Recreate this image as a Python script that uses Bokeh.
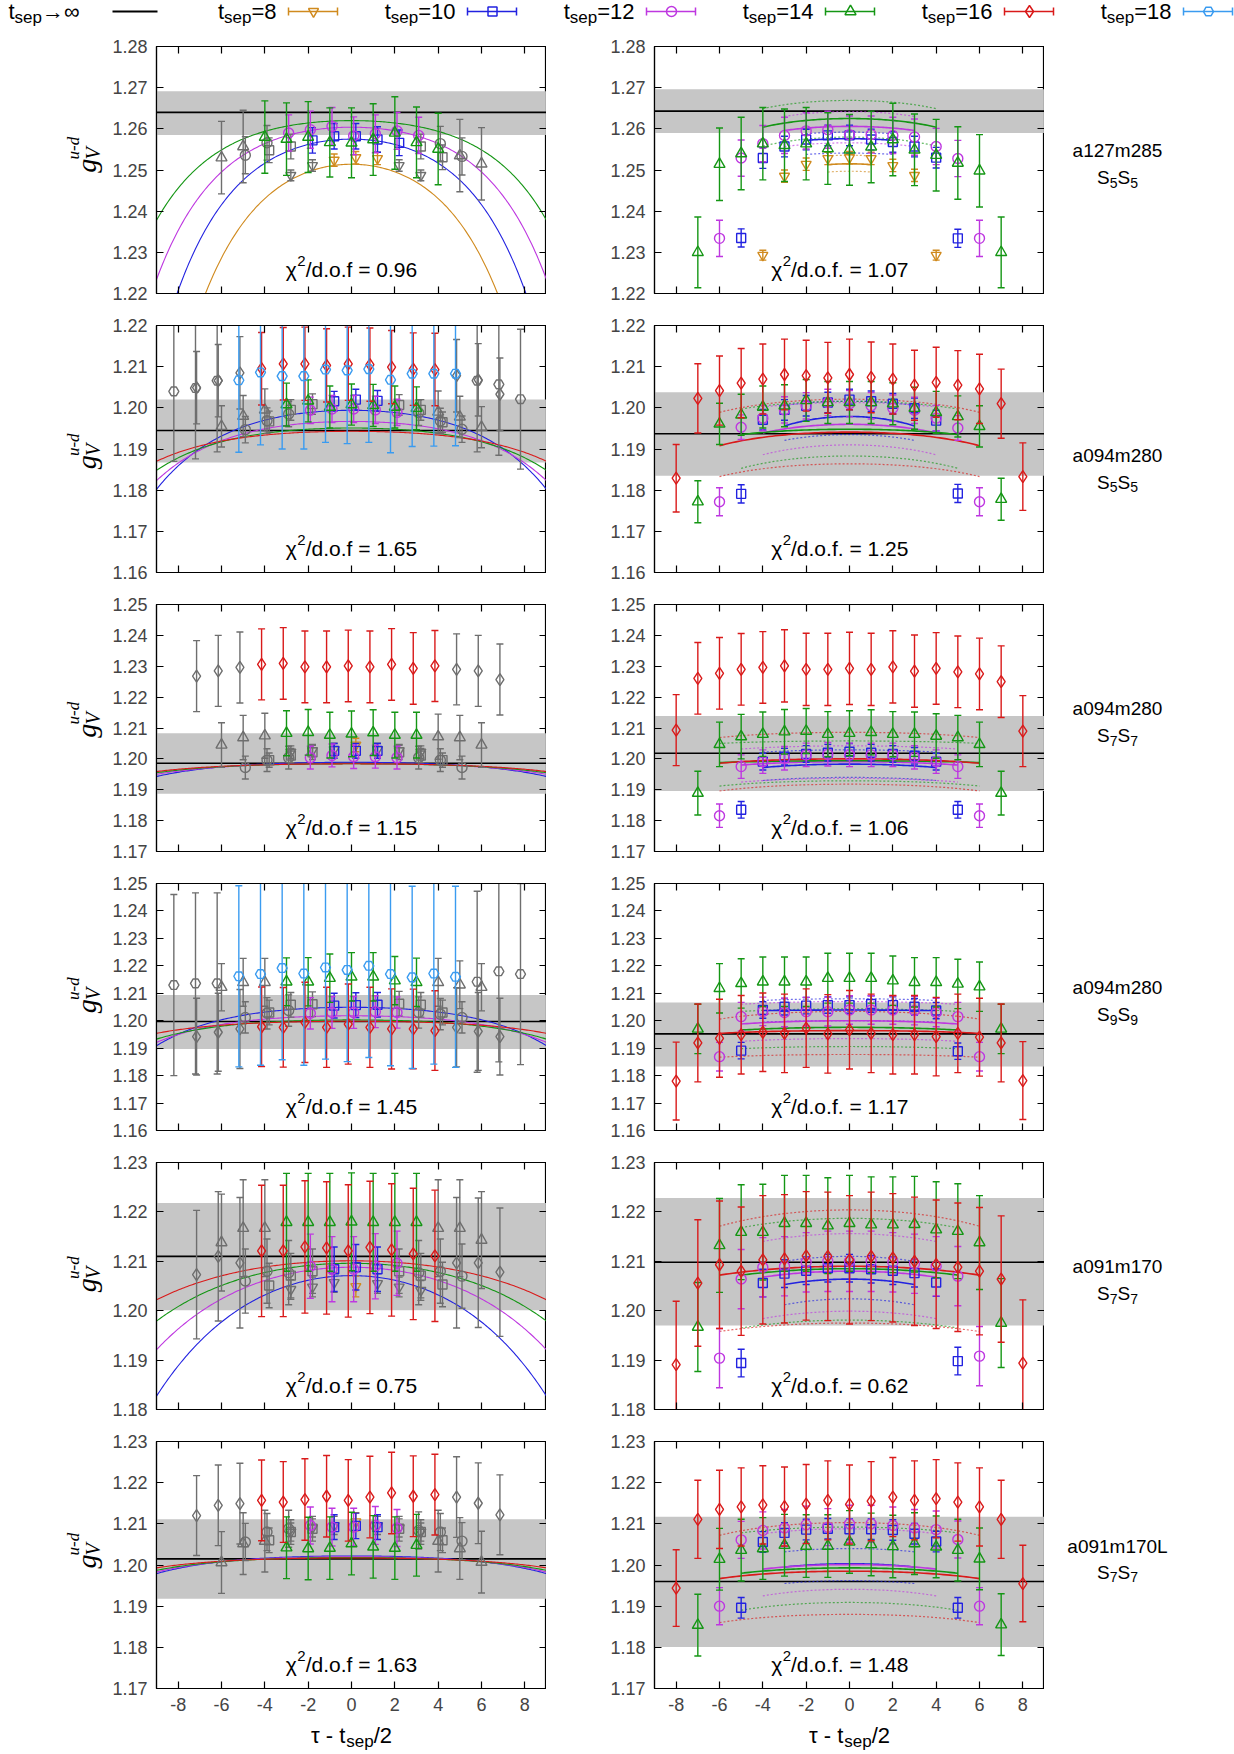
import numpy as np
from bokeh.plotting import figure
from bokeh.models import (ColumnDataSource, Range1d, FixedTicker, LinearAxis, BoxAnnotation,
                          Span, Label, PrintfTickFormatter, CustomJSTickFormatter)
from bokeh.layouts import column, row
from bokeh.embed import file_html
from bokeh.resources import INLINE

# ---------------------------------------------------------------- data
TSEPS = [8, 10, 12, 14, 16, 18]
ENSEMBLES = ["a127m285", "a094m280", "a094m280", "a094m280", "a091m170", "a091m170L"]
SMEAR = ["5", "5", "7", "9", "7", "7"]
YLIM = [(1.22, 1.28), (1.16, 1.22), (1.17, 1.25), (1.16, 1.25), (1.18, 1.23), (1.17, 1.23)]
CHI_LEFT = ["0.96", "1.65", "1.15", "1.45", "0.75", "1.63"]
CHI_RIGHT = ["1.07", "1.25", "1.06", "1.17", "0.62", "1.48"]
CUT_LEFT = [2, 3, 3, 3, 3, 3]   # excluded (grey) points at each end, left column

BAND_L = [(1.2585, 1.2691), (1.1867, 1.2020), (1.1887, 1.2083), (1.1897, 1.2094), (1.2001, 1.2218), (1.1918, 1.2111)]
LINE_L = [1.2640, 1.1945, 1.1986, 1.1997, 1.2110, 1.2015]
BAND_R = [(1.2590, 1.2696), (1.1835, 1.2038), (1.1896, 1.2139), (1.1833, 1.2066), (1.1970, 1.2228), (1.1801, 1.2117)]
LINE_R = [1.2643, 1.1937, 1.2018, 1.1952, 1.2098, 1.1960]

# ---- row 1 (a127m285 S5S5)
L1_T8 = [1.2487, 1.2511, 1.2524, 1.2530, 1.2528, 1.2511, 1.2487]
L1_T8_E = [0.0013, 0.0014, 0.0015, 0.0015, 0.0015, 0.0014, 0.0013]
L1_T10 = [1.2548, 1.2557, 1.2572, 1.2582, 1.2582, 1.2574, 1.2566, 1.2557, 1.2531]
L1_T10_E = [0.0030, 0.0030, 0.0031, 0.0031, 0.0031, 0.0031, 0.0031, 0.0030, 0.0030]
L1_T12 = [1.2536, 1.2566, 1.2590, 1.2598, 1.2606, 1.2583, 1.2588, 1.2595, 1.2584, 1.2564, 1.2533]
L1_T12_E = [0.0045, 0.0042, 0.0044, 0.0045, 0.0046, 0.0046, 0.0046, 0.0045, 0.0044, 0.0042, 0.0045]
L1_T14 = [1.2530, 1.2557, 1.2580, 1.2575, 1.2580, 1.2567, 1.2566, 1.2574, 1.2590, 1.2567, 1.2551, 1.2535, 1.2515]
L1_T14_E = [0.0088, 0.0088, 0.0088, 0.0088, 0.0086, 0.0084, 0.0085, 0.0087, 0.0088, 0.0086, 0.0087, 0.0088, 0.0088]

R1_T8 = [1.2293, 1.2485, 1.2514, 1.2528, 1.2530, 1.2528, 1.2511, 1.2487, 1.2293]
R1_T8_E = [0.0012, 0.0015, 0.0015, 0.0015, 0.0015, 0.0015, 0.0015, 0.0015, 0.0012]
R1_T10 = [1.2335, 1.2529, 1.2557, 1.2574, 1.2584, 1.2584, 1.2574, 1.2568, 1.2557, 1.2530, 1.2334]
R1_T10_E = [0.0022, 0.0025, 0.0025, 0.0025, 0.0025, 0.0025, 0.0025, 0.0025, 0.0025, 0.0025, 0.0022]
R1_T12 = [1.2334, 1.2529, 1.2564, 1.2584, 1.2595, 1.2598, 1.2586, 1.2586, 1.2584, 1.2580, 1.2557, 1.2528, 1.2334]
R1_T12_E = [0.0044, 0.0044, 0.0044, 0.0044, 0.0044, 0.0045, 0.0045, 0.0045, 0.0044, 0.0044, 0.0044, 0.0044, 0.0044]
R1_T14 = [1.2300, 1.2514, 1.2540, 1.2564, 1.2560, 1.2564, 1.2552, 1.2549, 1.2556, 1.2574, 1.2549, 1.2536, 1.2517, 1.2498, 1.2300]
R1_T14_E = [0.0086, 0.0088, 0.0088, 0.0088, 0.0088, 0.0088, 0.0087, 0.0086, 0.0087, 0.0088, 0.0087, 0.0087, 0.0088, 0.0088, 0.0086]

# ---- row 2 (a094m280 S5S5)
L2_T10 = [1.1967, 1.1995, 1.2009, 1.2016, 1.2020, 1.2017, 1.2007, 1.1995, 1.1965]
L2_T10_E = [0.0025, 0.0025, 0.0025, 0.0024, 0.0025, 0.0025, 0.0025, 0.0025, 0.0025]
L2_T12 = [1.1947, 1.1969, 1.1985, 1.1994, 1.1997, 1.1997, 1.1995, 1.1989, 1.1988, 1.1968, 1.1948]
L2_T12_E = [0.0032, 0.0031, 0.0031, 0.0032, 0.0033, 0.0033, 0.0033, 0.0032, 0.0031, 0.0031, 0.0032]
L2_T14 = [1.1955, 1.1980, 1.1995, 1.2008, 1.2017, 1.2002, 1.2008, 1.2006, 1.2002, 1.1999, 1.1990, 1.1978, 1.1953]
L2_T14_E = [0.0050, 0.0050, 0.0051, 0.0052, 0.0051, 0.0051, 0.0050, 0.0051, 0.0051, 0.0052, 0.0051, 0.0050, 0.0050]
L2_T16 = [1.2049, 1.2066, 1.2085, 1.2095, 1.2107, 1.2107, 1.2103, 1.2107, 1.2105, 1.2099, 1.2094, 1.2093, 1.2078, 1.2068, 1.2033]
L2_T16_E = [0.0088, 0.0088, 0.0088, 0.0088, 0.0088, 0.0089, 0.0089, 0.0089, 0.0089, 0.0089, 0.0088, 0.0088, 0.0088, 0.0088, 0.0088]
L2_T18 = [1.2040, 1.2048, 1.2066, 1.2067, 1.2086, 1.2077, 1.2077, 1.2093, 1.2091, 1.2094, 1.2068, 1.2083, 1.2083, 1.2083, 1.2066, 1.2057, 1.2021]
L2_T18_E = [0.0170, 0.0172, 0.0173, 0.0175, 0.0176, 0.0177, 0.0177, 0.0177, 0.0178, 0.0178, 0.0177, 0.0177, 0.0176, 0.0175, 0.0173, 0.0172, 0.0170]

R2_T10 = [1.1791, 1.1971, 1.1995, 1.2005, 1.2013, 1.2020, 1.2016, 1.2010, 1.1999, 1.1969, 1.1792]
R2_T10_E = [0.0022, 0.0025, 0.0025, 0.0025, 0.0025, 0.0025, 0.0025, 0.0025, 0.0025, 0.0025, 0.0022]
R2_T12 = [1.1772, 1.1953, 1.1975, 1.1995, 1.2005, 1.2013, 1.2010, 1.2005, 1.1999, 1.1994, 1.1975, 1.1951, 1.1772]
R2_T12_E = [0.0034, 0.0030, 0.0031, 0.0032, 0.0032, 0.0032, 0.0032, 0.0032, 0.0032, 0.0032, 0.0031, 0.0030, 0.0034]
R2_T14 = [1.1772, 1.1961, 1.1983, 1.2002, 1.2005, 1.2018, 1.2013, 1.2013, 1.2013, 1.2010, 1.1999, 1.1989, 1.1979, 1.1955, 1.1778]
R2_T14_E = [0.0051, 0.0050, 0.0050, 0.0051, 0.0051, 0.0051, 0.0051, 0.0051, 0.0051, 0.0051, 0.0051, 0.0051, 0.0050, 0.0050, 0.0051]
R2_T16 = [1.1829, 1.2023, 1.2042, 1.2060, 1.2070, 1.2081, 1.2078, 1.2073, 1.2081, 1.2074, 1.2070, 1.2055, 1.2062, 1.2055, 1.2046, 1.2010, 1.1833]
R2_T16_E = [0.0082, 0.0084, 0.0084, 0.0084, 0.0085, 0.0086, 0.0086, 0.0086, 0.0086, 0.0086, 0.0085, 0.0085, 0.0085, 0.0084, 0.0084, 0.0084, 0.0082]

# ---- row 3 (a094m280 S7S7)
L3_T8 = [1.2022, 1.2027, 1.2030, 1.2045, 1.2030, 1.2027, 1.2022]
L3_T8_E = [0.0020, 0.0020, 0.0021, 0.0022, 0.0021, 0.0020, 0.0020]
L3_T10 = [1.1996, 1.2011, 1.2021, 1.2026, 1.2026, 1.2026, 1.2021, 1.2011, 1.1996]
L3_T10_E = [0.0023, 0.0023, 0.0023, 0.0024, 0.0024, 0.0024, 0.0023, 0.0023, 0.0023]
L3_T12 = [1.1972, 1.1996, 1.2004, 1.2004, 1.2011, 1.2007, 1.2007, 1.2004, 1.2004, 1.1996, 1.1972]
L3_T12_E = [0.0037, 0.0037, 0.0037, 0.0037, 0.0037, 0.0038, 0.0037, 0.0037, 0.0037, 0.0037, 0.0037]
L3_T14 = [1.2045, 1.2069, 1.2075, 1.2083, 1.2086, 1.2077, 1.2081, 1.2085, 1.2077, 1.2077, 1.2072, 1.2069, 1.2045]
L3_T14_E = [0.0072, 0.0072, 0.0073, 0.0073, 0.0074, 0.0074, 0.0074, 0.0074, 0.0074, 0.0074, 0.0073, 0.0072, 0.0072]
L3_T16 = [1.2268, 1.2285, 1.2296, 1.2306, 1.2309, 1.2298, 1.2298, 1.2301, 1.2298, 1.2306, 1.2293, 1.2301, 1.2290, 1.2285, 1.2257]
L3_T16_E = [0.0115, 0.0115, 0.0115, 0.0115, 0.0116, 0.0116, 0.0116, 0.0116, 0.0116, 0.0116, 0.0116, 0.0115, 0.0115, 0.0115, 0.0115]

R3_T10 = [1.1835, 1.1991, 1.2007, 1.2016, 1.2020, 1.2023, 1.2020, 1.2016, 1.2010, 1.1991, 1.1835]
R3_T10_E = [0.0027, 0.0027, 0.0027, 0.0027, 0.0027, 0.0027, 0.0027, 0.0027, 0.0027, 0.0027, 0.0027]
R3_T12 = [1.1816, 1.1975, 1.1991, 1.2002, 1.2013, 1.2015, 1.2013, 1.2013, 1.2013, 1.2005, 1.1991, 1.1975, 1.1816]
R3_T12_E = [0.0038, 0.0038, 0.0038, 0.0038, 0.0038, 0.0038, 0.0038, 0.0038, 0.0038, 0.0038, 0.0038, 0.0038, 0.0038]
R3_T14 = [1.1889, 1.2047, 1.2072, 1.2080, 1.2088, 1.2090, 1.2080, 1.2083, 1.2086, 1.2080, 1.2080, 1.2074, 1.2069, 1.2047, 1.1889]
R3_T14_E = [0.0071, 0.0072, 0.0072, 0.0072, 0.0072, 0.0073, 0.0073, 0.0073, 0.0073, 0.0073, 0.0072, 0.0072, 0.0072, 0.0072, 0.0071]
R3_T16 = [1.2093, 1.2261, 1.2277, 1.2290, 1.2296, 1.2301, 1.2290, 1.2290, 1.2293, 1.2290, 1.2298, 1.2284, 1.2293, 1.2282, 1.2275, 1.2250, 1.2090]
R3_T16_E = [0.0115, 0.0116, 0.0116, 0.0116, 0.0116, 0.0117, 0.0117, 0.0117, 0.0117, 0.0117, 0.0117, 0.0117, 0.0116, 0.0116, 0.0116, 0.0116, 0.0115]

# ---- row 4 (a094m280 S9S9)
L4_T10 = [1.2030, 1.2058, 1.2060, 1.2055, 1.2057, 1.2058, 1.2062, 1.2058, 1.2030]
L4_T10_E = [0.0045, 0.0045, 0.0045, 0.0045, 0.0045, 0.0045, 0.0045, 0.0045, 0.0045]
L4_T12 = [1.2012, 1.2027, 1.2037, 1.2027, 1.2030, 1.2030, 1.2033, 1.2030, 1.2030, 1.2024, 1.2012]
L4_T12_E = [0.0057, 0.0057, 0.0057, 0.0057, 0.0058, 0.0058, 0.0058, 0.0057, 0.0057, 0.0057, 0.0057]
L4_T14 = [1.2122, 1.2140, 1.2140, 1.2142, 1.2142, 1.2155, 1.2160, 1.2160, 1.2146, 1.2140, 1.2140, 1.2131, 1.2122]
L4_T14_E = [0.0086, 0.0087, 0.0087, 0.0087, 0.0088, 0.0088, 0.0088, 0.0088, 0.0088, 0.0088, 0.0087, 0.0087, 0.0086]
L4_T16 = [1.1942, 1.1958, 1.1970, 1.1978, 1.1976, 1.1994, 1.1976, 1.1988, 1.1976, 1.1970, 1.1970, 1.1964, 1.1976, 1.1961, 1.1942]
L4_T16_E = [0.0140, 0.0142, 0.0144, 0.0145, 0.0145, 0.0146, 0.0146, 0.0146, 0.0146, 0.0146, 0.0145, 0.0145, 0.0144, 0.0142, 0.0140]
L4_T18 = [1.2130, 1.2136, 1.2136, 1.2162, 1.2170, 1.2192, 1.2172, 1.2194, 1.2185, 1.2200, 1.2170, 1.2158, 1.2172, 1.2160, 1.2142, 1.2180, 1.2170]
L4_T18_E = [0.0330, 0.0330, 0.0330, 0.0330, 0.0332, 0.0334, 0.0334, 0.0334, 0.0334, 0.0334, 0.0334, 0.0332, 0.0330, 0.0330, 0.0330, 0.0330, 0.0330]

R4_T10 = [1.1891, 1.2039, 1.2051, 1.2055, 1.2057, 1.2057, 1.2061, 1.2057, 1.2051, 1.2037, 1.1889]
R4_T10_E = [0.0030, 0.0030, 0.0030, 0.0030, 0.0030, 0.0030, 0.0030, 0.0030, 0.0030, 0.0030, 0.0030]
R4_T12 = [1.1869, 1.2015, 1.2034, 1.2030, 1.2033, 1.2033, 1.2039, 1.2039, 1.2039, 1.2037, 1.2030, 1.2015, 1.1869]
R4_T12_E = [0.0052, 0.0052, 0.0052, 0.0052, 0.0052, 0.0052, 0.0052, 0.0052, 0.0052, 0.0052, 0.0052, 0.0052, 0.0052]
R4_T14 = [1.1970, 1.2118, 1.2136, 1.2142, 1.2142, 1.2142, 1.2155, 1.2155, 1.2155, 1.2146, 1.2140, 1.2140, 1.2134, 1.2124, 1.1970]
R4_T14_E = [0.0090, 0.0090, 0.0090, 0.0090, 0.0090, 0.0090, 0.0091, 0.0091, 0.0091, 0.0090, 0.0090, 0.0090, 0.0090, 0.0090, 0.0090]
R4_T16 = [1.1780, 1.1919, 1.1936, 1.1949, 1.1958, 1.1954, 1.1973, 1.1952, 1.1967, 1.1954, 1.1949, 1.1949, 1.1942, 1.1954, 1.1940, 1.1919, 1.1782]
R4_T16_E = [0.0142, 0.0142, 0.0142, 0.0143, 0.0143, 0.0143, 0.0143, 0.0143, 0.0143, 0.0143, 0.0143, 0.0143, 0.0143, 0.0143, 0.0142, 0.0142, 0.0142]

# ---- row 5 (a091m170 S7S7)
L5_T8 = [1.2043, 1.2048, 1.2057, 1.2049, 1.2055, 1.2048, 1.2041]
L5_T8_E = [0.0020, 0.0020, 0.0020, 0.0021, 0.0020, 0.0020, 0.0020]
L5_T10 = [1.2051, 1.2071, 1.2080, 1.2084, 1.2088, 1.2084, 1.2080, 1.2071, 1.2053]
L5_T10_E = [0.0045, 0.0045, 0.0045, 0.0045, 0.0046, 0.0045, 0.0045, 0.0045, 0.0045]
L5_T12 = [1.2060, 1.2080, 1.2077, 1.2090, 1.2084, 1.2084, 1.2090, 1.2096, 1.2077, 1.2080, 1.2070]
L5_T12_E = [0.0065, 0.0065, 0.0065, 0.0065, 0.0066, 0.0066, 0.0066, 0.0065, 0.0065, 0.0065, 0.0065]
L5_T14 = [1.2138, 1.2167, 1.2167, 1.2179, 1.2179, 1.2179, 1.2180, 1.2179, 1.2179, 1.2179, 1.2167, 1.2167, 1.2143]
L5_T14_E = [0.0098, 0.0098, 0.0098, 0.0099, 0.0099, 0.0099, 0.0099, 0.0099, 0.0099, 0.0099, 0.0098, 0.0098, 0.0098]
L5_T16 = [1.2073, 1.2110, 1.2097, 1.2121, 1.2121, 1.2129, 1.2127, 1.2121, 1.2128, 1.2123, 1.2115, 1.2111, 1.2097, 1.2097, 1.2078]
L5_T16_E = [0.0130, 0.0131, 0.0132, 0.0133, 0.0133, 0.0134, 0.0134, 0.0134, 0.0134, 0.0134, 0.0133, 0.0133, 0.0132, 0.0131, 0.0130]

R5_T10 = [1.1894, 1.2056, 1.2075, 1.2081, 1.2086, 1.2086, 1.2084, 1.2081, 1.2076, 1.2057, 1.1898]
R5_T10_E = [0.0028, 0.0028, 0.0028, 0.0028, 0.0028, 0.0028, 0.0028, 0.0028, 0.0028, 0.0028, 0.0028]
R5_T12 = [1.1904, 1.2064, 1.2088, 1.2090, 1.2098, 1.2100, 1.2100, 1.2100, 1.2098, 1.2095, 1.2090, 1.2070, 1.1908]
R5_T12_E = [0.0060, 0.0060, 0.0060, 0.0060, 0.0060, 0.0061, 0.0061, 0.0061, 0.0060, 0.0060, 0.0060, 0.0060, 0.0060]
R5_T14 = [1.1967, 1.2132, 1.2159, 1.2159, 1.2177, 1.2177, 1.2172, 1.2177, 1.2174, 1.2174, 1.2175, 1.2164, 1.2161, 1.2138, 1.1975]
R5_T14_E = [0.0090, 0.0095, 0.0096, 0.0097, 0.0097, 0.0097, 0.0097, 0.0097, 0.0097, 0.0097, 0.0097, 0.0097, 0.0096, 0.0095, 0.0090]
R5_T16 = [1.1891, 1.2056, 1.2093, 1.2080, 1.2103, 1.2105, 1.2111, 1.2110, 1.2103, 1.2110, 1.2107, 1.2100, 1.2094, 1.2088, 1.2080, 1.2064, 1.1894]
R5_T16_E = [0.0128, 0.0128, 0.0129, 0.0130, 0.0130, 0.0130, 0.0130, 0.0130, 0.0130, 0.0130, 0.0130, 0.0130, 0.0130, 0.0130, 0.0129, 0.0128, 0.0128]

# ---- row 6 (a091m170L S7S7)
L6_T8 = [1.2080, 1.2090, 1.2096, 1.2105, 1.2096, 1.2090, 1.2080]
L6_T8_E = [0.0022, 0.0022, 0.0022, 0.0022, 0.0022, 0.0022, 0.0022]
L6_T10 = [1.2060, 1.2080, 1.2088, 1.2092, 1.2095, 1.2092, 1.2088, 1.2080, 1.2060]
L6_T10_E = [0.0030, 0.0030, 0.0030, 0.0030, 0.0031, 0.0030, 0.0030, 0.0030, 0.0030]
L6_T12 = [1.2056, 1.2080, 1.2088, 1.2096, 1.2092, 1.2092, 1.2096, 1.2090, 1.2084, 1.2080, 1.2058]
L6_T12_E = [0.0045, 0.0045, 0.0045, 0.0045, 0.0046, 0.0046, 0.0046, 0.0045, 0.0045, 0.0045, 0.0045]
L6_T14 = [1.2006, 1.2052, 1.2058, 1.2042, 1.2040, 1.2041, 1.2052, 1.2044, 1.2041, 1.2048, 1.2058, 1.2040, 1.2007]
L6_T14_E = [0.0075, 0.0075, 0.0075, 0.0075, 0.0076, 0.0076, 0.0076, 0.0076, 0.0076, 0.0075, 0.0075, 0.0075, 0.0075]
L6_T16 = [1.2120, 1.2145, 1.2149, 1.2157, 1.2153, 1.2159, 1.2167, 1.2157, 1.2165, 1.2175, 1.2167, 1.2171, 1.2165, 1.2150, 1.2122]
L6_T16_E = [0.0097, 0.0098, 0.0098, 0.0098, 0.0098, 0.0099, 0.0099, 0.0099, 0.0099, 0.0099, 0.0098, 0.0098, 0.0098, 0.0098, 0.0097]

R6_T10 = [1.1896, 1.2056, 1.2078, 1.2086, 1.2088, 1.2087, 1.2087, 1.2085, 1.2076, 1.2057, 1.1896]
R6_T10_E = [0.0025, 0.0025, 0.0025, 0.0025, 0.0025, 0.0025, 0.0025, 0.0025, 0.0025, 0.0025, 0.0025]
R6_T12 = [1.1900, 1.2061, 1.2084, 1.2090, 1.2098, 1.2092, 1.2100, 1.2100, 1.2096, 1.2090, 1.2086, 1.2062, 1.1900]
R6_T12_E = [0.0045, 0.0045, 0.0045, 0.0045, 0.0045, 0.0045, 0.0045, 0.0045, 0.0045, 0.0045, 0.0045, 0.0045, 0.0045]
R6_T14 = [1.1854, 1.2014, 1.2036, 1.2040, 1.2048, 1.2046, 1.2046, 1.2056, 1.2050, 1.2045, 1.2052, 1.2044, 1.2036, 1.2015, 1.1855]
R6_T14_E = [0.0075, 0.0075, 0.0075, 0.0075, 0.0075, 0.0076, 0.0076, 0.0076, 0.0076, 0.0076, 0.0075, 0.0075, 0.0075, 0.0075, 0.0075]
R6_T16 = [1.1944, 1.2111, 1.2135, 1.2141, 1.2146, 1.2142, 1.2148, 1.2157, 1.2147, 1.2155, 1.2165, 1.2157, 1.2161, 1.2153, 1.2141, 1.2111, 1.1955]
R6_T16_E = [0.0093, 0.0095, 0.0095, 0.0095, 0.0095, 0.0096, 0.0096, 0.0096, 0.0096, 0.0096, 0.0096, 0.0096, 0.0095, 0.0095, 0.0095, 0.0095, 0.0093]

# fit curves, left column: value at the centre and at tau - tsep/2 = +-9
LFIT_TS = [[8, 10, 12, 14], [10, 12, 14, 16], [10, 12, 14, 16], [10, 12, 14, 16], [10, 12, 14, 16], [10, 12, 14, 16]]
LFIT_C = [[1.2514, 1.2575, 1.2604, 1.2620], [1.1994, 1.1967, 1.1951, 1.1943], [1.1989, 1.1985, 1.1984, 1.1984],
          [1.2049, 1.2018, 1.2003, 1.1998], [1.2071, 1.2088, 1.2096, 1.2101], [1.2022, 1.2020, 1.2018, 1.2017]]
LFIT_E = [[1.1740, 1.2033, 1.2234, 1.2378], [1.1802, 1.1823, 1.1848, 1.1870], [1.1943, 1.1950, 1.1955, 1.1959],
          [1.1909, 1.1921, 1.1933, 1.1954], [1.1827, 1.1921, 1.1979, 1.2022], [1.1979, 1.1983, 1.1987, 1.1993]]
# fit curves, right column: half span, centre/end of solid curve and of its upper/lower dotted bounds
RFIT_TS = [[8, 10, 12, 14], [10, 12, 14, 16], [10, 12, 14, 16], [10, 12, 14, 16], [10, 12, 14, 16], [10, 12, 14, 16]]
RFIT_SPAN = [[1, 2, 3, 4], [3, 4, 5, 6], [4, 5, 6, 6], [4, 5, 5, 6], [3, 4, 5, 6], [3, 4, 5, 6]]
RFIT_C = [[1.2515, 1.2576, 1.2606, 1.2625], [1.1979, 1.1960, 1.1948, 1.1941], [1.1983, 1.1991, 1.1994, 1.2000],
          [1.2039, 1.2000, 1.1976, 1.1964], [1.2064, 1.2080, 1.2085, 1.2090], [1.2003, 1.2001, 1.1993, 1.1985]]
RFIT_E = [[1.2513, 1.2572, 1.2596, 1.2604], [1.1956, 1.1939, 1.1935, 1.1908], [1.1972, 1.1980, 1.1988, 1.1986],
          [1.2037, 1.1988, 1.1966, 1.1954], [1.2053, 1.2068, 1.2072, 1.2072], [1.1995, 1.1990, 1.1980, 1.1967]]
RFIT_UC = [[1.2536, 1.2592, 1.2642, 1.2669], [1.2016, 1.2013, 1.2016, 1.2021], [1.2029, 1.2042, 1.2058, 1.2086],
           [1.2080, 1.2070, 1.2043, 1.2034], [1.2110, 1.2156, 1.2187, 1.2204], [1.2040, 1.2088, 1.2092, 1.2103]]
RFIT_UE = [[1.2534, 1.2588, 1.2630, 1.2649], [1.2006, 1.2002, 1.1997, 1.1989], [1.2022, 1.2032, 1.2050, 1.2069],
           [1.2074, 1.2060, 1.2034, 1.2006], [1.2100, 1.2140, 1.2168, 1.2171], [1.2032, 1.2076, 1.2078, 1.2072]]
RFIT_LC = [[1.2497, 1.2541, 1.2566, 1.2580], [1.1935, 1.1910, 1.1883, 1.1864], [1.1940, 1.1937, 1.1929, 1.1918],
           [1.2000, 1.1935, 1.1906, 1.1877], [1.2024, 1.1999, 1.1981, 1.1975], [1.1962, 1.1941, 1.1909, 1.1880]]
RFIT_LE = [[1.2495, 1.2538, 1.2557, 1.2558], [1.1921, 1.1886, 1.1853, 1.1833], [1.1930, 1.1925, 1.1912, 1.1896],
           [1.1995, 1.1925, 1.1898, 1.1867], [1.2012, 1.1984, 1.1965, 1.1958], [1.1955, 1.1925, 1.1890, 1.1860]]
K_ROW = [0.35, 0.3, 0.3, 0.3, 0.2, 0.3]   # curvature of the cosh-shaped fit curves

LEFT_SERIES = [
    {8: (L1_T8, L1_T8_E), 10: (L1_T10, L1_T10_E), 12: (L1_T12, L1_T12_E), 14: (L1_T14, L1_T14_E)},
    {10: (L2_T10, L2_T10_E), 12: (L2_T12, L2_T12_E), 14: (L2_T14, L2_T14_E), 16: (L2_T16, L2_T16_E), 18: (L2_T18, L2_T18_E)},
    {8: (L3_T8, L3_T8_E), 10: (L3_T10, L3_T10_E), 12: (L3_T12, L3_T12_E), 14: (L3_T14, L3_T14_E), 16: (L3_T16, L3_T16_E)},
    {10: (L4_T10, L4_T10_E), 12: (L4_T12, L4_T12_E), 14: (L4_T14, L4_T14_E), 16: (L4_T16, L4_T16_E), 18: (L4_T18, L4_T18_E)},
    {8: (L5_T8, L5_T8_E), 10: (L5_T10, L5_T10_E), 12: (L5_T12, L5_T12_E), 14: (L5_T14, L5_T14_E), 16: (L5_T16, L5_T16_E)},
    {8: (L6_T8, L6_T8_E), 10: (L6_T10, L6_T10_E), 12: (L6_T12, L6_T12_E), 14: (L6_T14, L6_T14_E), 16: (L6_T16, L6_T16_E)},
]
RIGHT_SERIES = [
    {8: (R1_T8, R1_T8_E), 10: (R1_T10, R1_T10_E), 12: (R1_T12, R1_T12_E), 14: (R1_T14, R1_T14_E)},
    {10: (R2_T10, R2_T10_E), 12: (R2_T12, R2_T12_E), 14: (R2_T14, R2_T14_E), 16: (R2_T16, R2_T16_E)},
    {10: (R3_T10, R3_T10_E), 12: (R3_T12, R3_T12_E), 14: (R3_T14, R3_T14_E), 16: (R3_T16, R3_T16_E)},
    {10: (R4_T10, R4_T10_E), 12: (R4_T12, R4_T12_E), 14: (R4_T14, R4_T14_E), 16: (R4_T16, R4_T16_E)},
    {10: (R5_T10, R5_T10_E), 12: (R5_T12, R5_T12_E), 14: (R5_T14, R5_T14_E), 16: (R5_T16, R5_T16_E)},
    {10: (R6_T10, R6_T10_E), 12: (R6_T12, R6_T12_E), 14: (R6_T14, R6_T14_E), 16: (R6_T16, R6_T16_E)},
]

# ---------------------------------------------------------------- style / layout
COLORS = {8: "#D08A1E", 10: "#2222E0", 12: "#BE37E0", 14: "#149614", 16: "#D91A1A", 18: "#3A9BF0"}
MARKERS = {8: "inverted_triangle", 10: "square", 12: "circle", 14: "triangle", 16: "diamond", 18: "hex"}
MSIZE = {8: 10, 10: 9, 12: 10, 14: 11, 16: 12, 18: 10}
OFFSETS = {8: 0.2, 10: 0.2, 12: 0.1, 14: 0.0, 16: -0.15, 18: -0.2}
GRAY = "#6E6E6E"
FONT = "Liberation Sans"
SERIF = "Liberation Serif"
FRAME_W, FRAME_H = 390, 247
TOP_B, BOT_B, LAST_BOT_B = 8, 24, 32
YLAB_W, LEFT_B = 106, 50          # y-label strip + left border of the left panels
RIGHT_LB, LAB_W = 108, 190        # left border of right panels + label strip on the right
LEG_H, XLAB_H = 38, 34
LABEL_OFF = [104, 133, 104, 104, 104, 108]   # ensemble label centre below frame top (px)
YLAB_SHIFT = [8, -12, 0, 4, 4, 3]             # y-label centre shift (px, up) vs frame centre

CW = {'t': 0.278, 's': 0.5, 'e': 0.556, 'p': 0.556, '=': 0.584, '-': 0.333, ' ': 0.278, '/': 0.278,
      '.': 0.278, 'τ': 0.44, '→': 1.0, '∞': 0.713, 'S': 0.667, 'χ': 0.55, 'd': 0.556, 'o': 0.556,
      'f': 0.278, 'g': 0.5, 'V': 0.611, 'u': 0.5, 'a': 0.556, 'm': 0.833, 'L': 0.556}


def tw(s, size):
    return sum(CW.get(c, 0.556) for c in s) * size


def rich(p, x, y, pieces, align="center", dx=0.0, dy=0.0, font=FONT, style="normal"):
    total = sum(tw(t, s) for t, s, _ in pieces)
    cur = -total / 2 if align == "center" else (-total if align == "right" else 0.0)
    for t, s, rise in pieces:
        p.add_layout(Label(x=x, y=y, text=t, x_offset=dx + cur, y_offset=dy + rise,
                           text_font=font, text_font_style=style, text_font_size=f"{s}px",
                           text_align="left", text_baseline="alphabetic", text_color="black"))
        cur += tw(t, s)


def strip(w, h):
    p = figure(width=w, height=h, x_range=Range1d(0, w), y_range=Range1d(0, h),
               toolbar_location=None, output_backend="svg", x_axis_type=None, y_axis_type=None,
               min_border=0, outline_line_color=None)
    return p


def style_axis(ax, ticks, show, fmt=None, standoff=10):
    ax.ticker = FixedTicker(ticks=ticks)
    ax.axis_line_color = "black"
    ax.axis_line_width = 1.2
    ax.major_tick_in = 7
    ax.major_tick_out = 0
    ax.major_tick_line_color = "black"
    ax.major_tick_line_width = 1.2
    ax.minor_tick_line_color = None
    if show:
        ax.major_label_text_font = FONT
        ax.major_label_text_font_size = "18px"
        ax.major_label_standoff = standoff
        if fmt:
            ax.formatter = fmt
    else:
        ax.formatter = CustomJSTickFormatter(code="return ''")
        ax.major_label_standoff = 0


def make_fig(r, left, last):
    ylo, yhi = YLIM[r]
    p = figure(frame_width=FRAME_W, frame_height=FRAME_H,
               x_range=Range1d(-9, 9), y_range=Range1d(ylo, yhi),
               min_border_left=LEFT_B if left else RIGHT_LB, min_border_right=0,
               min_border_top=TOP_B, min_border_bottom=LAST_BOT_B if last else BOT_B,
               toolbar_location=None, output_backend="svg",
               x_axis_type=None, y_axis_type=None)
    p.outline_line_color = "black"
    p.outline_line_width = 1.2
    yt = [round(ylo + 0.01 * i, 2) for i in range(int(round((yhi - ylo) / 0.01)) + 1)]
    xt = [-8, -6, -4, -2, 0, 2, 4, 6, 8]
    ax = LinearAxis(); style_axis(ax, yt, True, PrintfTickFormatter(format="%.2f"), 9); p.add_layout(ax, "left")
    ax = LinearAxis(); style_axis(ax, yt, False); p.add_layout(ax, "right")
    ax = LinearAxis(); style_axis(ax, xt, last, PrintfTickFormatter(format="%d"), 9); p.add_layout(ax, "below")
    ax = LinearAxis(); style_axis(ax, xt, False); p.add_layout(ax, "above")
    return p


def draw_points(p, xs, ys, es, color, marker, size):
    src = ColumnDataSource(dict(x=list(xs), y=list(ys),
                                lo=[y - e for y, e in zip(ys, es)], hi=[y + e for y, e in zip(ys, es)]))
    p.segment("x", "lo", "x", "hi", source=src, line_color=color, line_width=1.4)
    p.scatter("x", "lo", source=src, marker="dash", size=7, line_color=color, line_width=1.4)
    p.scatter("x", "hi", source=src, marker="dash", size=7, line_color=color, line_width=1.4)
    p.scatter("x", "y", source=src, marker=marker, size=size, line_color=color, fill_color=None, line_width=1.4)


def cosh_curve(c, e, xe, k, xs):
    return c - (c - e) * (np.cosh(k * xs) - 1.0) / (np.cosh(k * xe) - 1.0)


def band_and_line(p, band, line):
    p.add_layout(BoxAnnotation(bottom=band[0], top=band[1], fill_color="#C6C6C6", fill_alpha=1.0,
                               line_color=None, level="underlay"))
    p.add_layout(Span(location=line, dimension="width", line_color="black", line_width=1.6, level="underlay"))


def chi_text(p, r, xc, val, dotted_end):
    ylo = YLIM[r][0]
    tail = "/d.o.f. = " if dotted_end else "/d.o.f = "
    rich(p, xc, ylo, [("χ", 21, 0), ("2", 15, 9), (tail + val, 21, 0)], dy=24)


def left_panel(r, last):
    p = make_fig(r, True, last)
    band_and_line(p, BAND_L[r], LINE_L[r])
    xs = np.linspace(-9, 9, 241)
    for ts, c, e in zip(LFIT_TS[r], LFIT_C[r], LFIT_E[r]):
        p.line(xs, cosh_curve(c, e, 9.0, K_ROW[r], xs), line_color=COLORS[ts], line_width=1.1)
    cut = CUT_LEFT[r]
    series = LEFT_SERIES[r]
    for grey in (True, False):
        for ts, (ys, es) in series.items():
            taus = np.arange(1, ts)
            x = taus - ts / 2 + OFFSETS[ts]
            m = (taus <= cut) | (taus >= ts - cut)
            if not grey:
                m = ~m
            draw_points(p, x[m], np.array(ys)[m], np.array(es)[m], GRAY if grey else COLORS[ts],
                        MARKERS[ts], MSIZE[ts])
    chi_text(p, r, 0.0, CHI_LEFT[r], False)
    return p


def right_panel(r, last):
    p = make_fig(r, False, last)
    band_and_line(p, BAND_R[r], LINE_R[r])
    k = K_ROW[r]
    for i, ts in enumerate(RFIT_TS[r]):
        span = RFIT_SPAN[r][i]
        xs = np.linspace(-span, span, 80)
        for c, e in ((RFIT_UC[r][i], RFIT_UE[r][i]), (RFIT_LC[r][i], RFIT_LE[r][i])):
            p.line(xs, cosh_curve(c, e, span, k, xs), line_color=COLORS[ts],
                   line_width=1.2, line_dash="2 2", line_alpha=0.65)
    for i, ts in enumerate(RFIT_TS[r]):
        span = RFIT_SPAN[r][i]
        xs = np.linspace(-span, span, 80)
        p.line(xs, cosh_curve(RFIT_C[r][i], RFIT_E[r][i], span, k, xs), line_color=COLORS[ts], line_width=1.6)
    for ts, (ys, es) in RIGHT_SERIES[r].items():
        x = np.arange(0, ts + 1) - ts / 2
        draw_points(p, x, ys, es, COLORS[ts], MARKERS[ts], MSIZE[ts])
    chi_text(p, r, -0.45, CHI_RIGHT[r], True)
    return p


def ylabel_strip(r, h):
    p = strip(YLAB_W, h)
    frame_bottom = h - TOP_B - FRAME_H
    centre = frame_bottom + FRAME_H / 2 + YLAB_SHIFT[r]
    start = centre - 19
    bx = 86
    for text, size, xo, yo in (("g", 28, 0, 0), ("V", 20, 6, 15), ("u-d", 17, -13, 15)):
        p.add_layout(Label(x=bx + xo, y=start + yo, text=text, angle=np.pi / 2,
                           text_font=SERIF, text_font_style="italic", text_font_size=f"{size}px",
                           text_align="left", text_baseline="alphabetic", text_color="black"))
    return p


def ens_strip(r, h):
    p = strip(LAB_W, h)
    frame_top = h - TOP_B
    cx = 73
    yb = frame_top - LABEL_OFF[r] - 6
    p.add_layout(Label(x=cx, y=yb, text=ENSEMBLES[r], text_font=FONT, text_font_size="19px",
                       text_align="center", text_baseline="alphabetic", text_color="black"))
    n = SMEAR[r]
    rich(p, cx, yb - 30, [("S", 19, 0), (n, 14, -5), ("S", 19, 0), (n, 14, -5)])
    return p


# ---------------------------------------------------------------- legend strip (top)
W_TOTAL = YLAB_W + LEFT_B + FRAME_W + RIGHT_LB + FRAME_W + LAB_W
leg = strip(W_TOTAL, LEG_H)
TXT_Y, MK_Y = 27, 27
rich(leg, 8, TXT_Y, [("t", 22, 0), ("sep", 17, -6), ("→∞", 22, 0)], align="left")
leg.line([112, 157], [MK_Y, MK_Y], line_color="black", line_width=2)
for i, ts in enumerate(TSEPS):
    end = 276 + 179 * i
    rich(leg, end, TXT_Y, [("t", 22, 0), ("sep", 17, -6), (f"={ts}", 22, 0)], align="right")
    x0, x1, xc = end + 12, end + 61, end + 37
    col = COLORS[ts]
    leg.line([x0, x1], [MK_Y, MK_Y], line_color=col, line_width=1.5)
    leg.scatter([x0, x1], [MK_Y, MK_Y], marker="dash", angle=np.pi / 2, size=8, line_color=col, line_width=1.5)
    leg.scatter([xc], [MK_Y], marker=MARKERS[ts], size=MSIZE[ts], line_color=col, fill_color=None, line_width=1.5)

# ---------------------------------------------------------------- x label strip (bottom)
xl = strip(W_TOTAL, XLAB_H)
for cx in (YLAB_W + LEFT_B + FRAME_W / 2, YLAB_W + LEFT_B + FRAME_W + RIGHT_LB + FRAME_W / 2):
    rich(xl, cx, 19, [("τ - t", 22, 0), ("sep", 17, -6), ("/2", 22, 0)])

rows = []
for r in range(6):
    last = r == 5
    h = TOP_B + FRAME_H + (LAST_BOT_B if last else BOT_B)
    rows.append(row(ylabel_strip(r, h), left_panel(r, last), right_panel(r, last), ens_strip(r, h), spacing=0))

layout = column(leg, *rows, xl, spacing=0)
open("out.html", "w").write(file_html(layout, INLINE))
